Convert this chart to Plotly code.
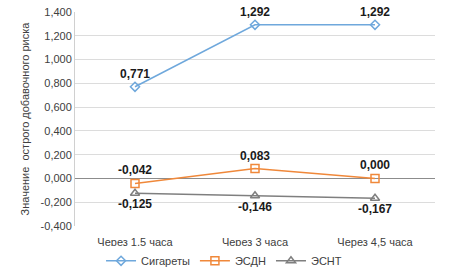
import plotly.graph_objects as go

categories = ["Через 1,5 часа", "Через 3 часа", "Через 4,5 часа"]
cigarettes = [0.771, 1.292, 1.292]
esdn = [-0.042, 0.083, 0.000]
esnt = [-0.125, -0.146, -0.167]
tick_vals = [-0.4, -0.2, 0.0, 0.2, 0.4, 0.6, 0.8, 1.0, 1.2, 1.4]
tick_text = ["-0,400", "-0,200", "0,000", "0,200", "0,400", "0,600", "0,800", "1,000", "1,200", "1,400"]

def fmt(v):
    return f"{v:.3f}".replace(".", ",")

font = "Liberation Sans, Arial, sans-serif"
fig = go.Figure()
series = [
    ("Сигареты", cigarettes, "#6fa8dc", "diamond-open", 7, "top center"),
    ("ЭСДН", esdn, "#f0883a", "square-open", 8, "top center"),
    ("ЭСНТ", esnt, "#7f7f7f", "triangle-up-open", 8, "bottom center"),
]
for name, vals, color, sym, size, pos in series:
    fig.add_trace(go.Scatter(
        x=categories, y=vals, name=name, mode="lines+markers+text",
        line=dict(color=color, width=1.5),
        marker=dict(symbol=sym, size=size, color=color, line=dict(width=1.5, color=color)),
        text=[fmt(v) for v in vals], textposition=pos,
        textfont=dict(family=font, size=12, color="#1a1a1a", weight="bold"),
        cliponaxis=False,
    ))

fig.update_layout(
    width=449, height=275,
    margin=dict(l=75, r=14, t=12, b=49, autoexpand=False),
    paper_bgcolor="white", plot_bgcolor="white",
    font=dict(family=font, size=11, color="#404040"),
    showlegend=True,
    legend=dict(orientation="h", x=0.414, xanchor="center", y=-0.095, yanchor="top",
                font=dict(size=11, color="#404040"), tracegroupgap=0),
    xaxis=dict(type="category", range=[-0.5, 2.5], showgrid=False, showline=False,
               ticks="", ticklabelstandoff=8, tickfont=dict(size=11, color="#404040"), zeroline=False),
    yaxis=dict(range=[-0.4, 1.4], tickvals=tick_vals, ticktext=tick_text,
               showgrid=True, gridcolor="#dcdcdc", gridwidth=1,
               zeroline=True, zerolinecolor="#8c8c8c", zerolinewidth=1,
               showline=True, linecolor="#d0d0d0", ticks="",
               tickfont=dict(size=11, color="#404040"),
               title=dict(text="Значение  острого добавочного риска", font=dict(size=11, color="#404040"), standoff=8)),
)
fig.write_html("out.html", config={"displayModeBar": False},
               post_script="document.body.style.margin='0';document.body.style.padding='0';")
